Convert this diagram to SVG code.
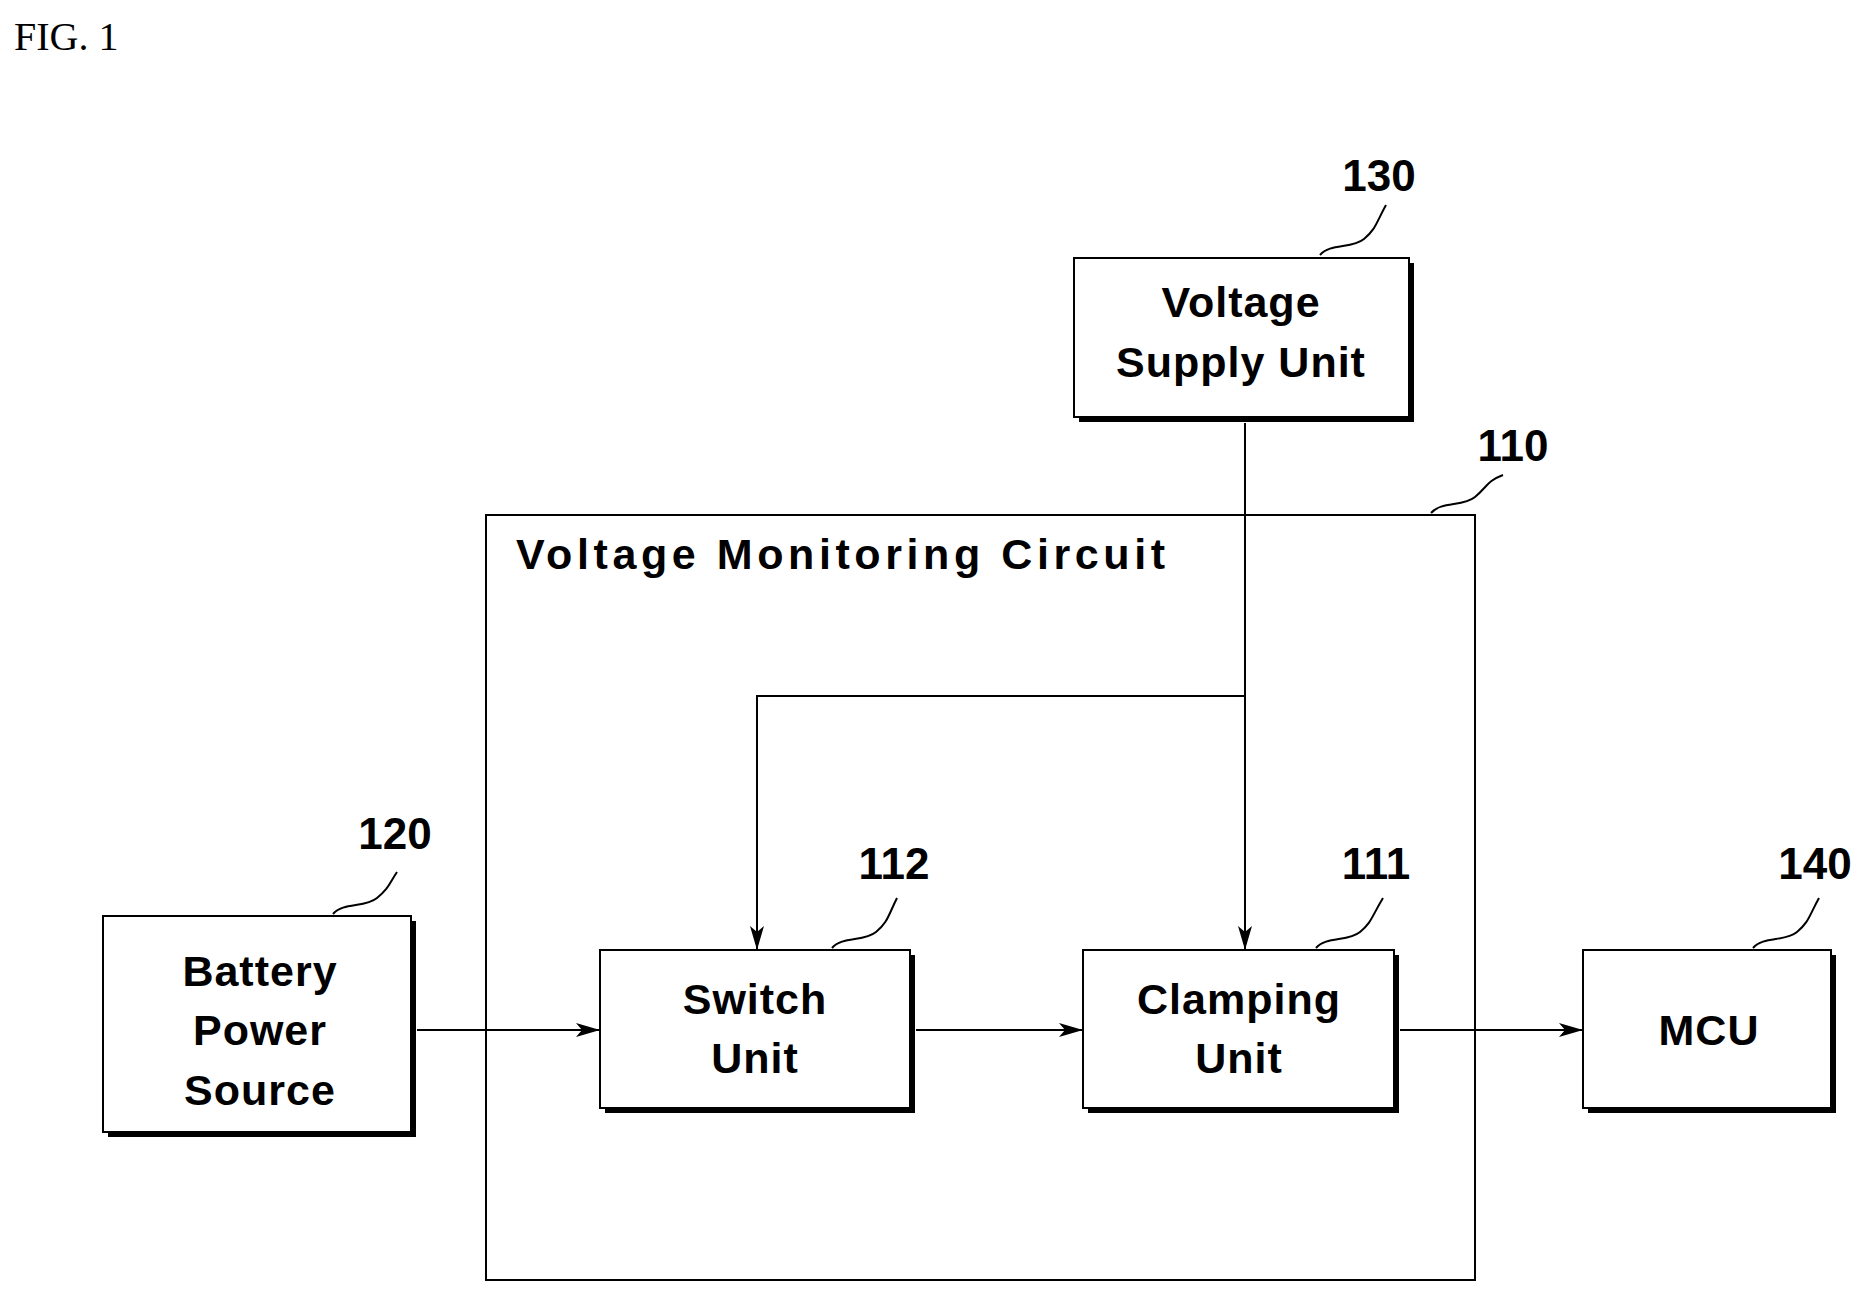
<svg xmlns="http://www.w3.org/2000/svg" width="1870" height="1299" viewBox="0 0 1870 1299">
<defs>
<marker id="ah" markerWidth="24" markerHeight="14" refX="24" refY="7" orient="auto" markerUnits="userSpaceOnUse"><path d="M0,0 L24,7 L0,14 L6,7 Z" fill="#000"/></marker>
</defs>
<style>
.box{fill:#fff;stroke:#000;stroke-width:2}
.sh{fill:#000}
.t{font-family:"Liberation Sans",Arial,sans-serif;font-weight:bold;font-size:43px;text-anchor:middle;letter-spacing:1px}
.n{font-family:"Liberation Sans",Arial,sans-serif;font-weight:bold;font-size:44px;text-anchor:middle}
.ld{fill:none;stroke:#000;stroke-width:2}
.ln{fill:none;stroke:#000;stroke-width:2}
</style>
<rect width="1870" height="1299" fill="#fff"/>
<text x="14" y="50" font-family="Liberation Serif,serif" font-size="40">FIG. 1</text>
<g transform="translate(-5,-3)">
<g id="n110">
<rect x="491" y="518" width="989" height="765" class="box"/>
<text x="521" y="572" class="t" style="text-anchor:start" textLength="650">Voltage Monitoring Circuit</text>
<path class="ld" d="M1436,516 c10,-12 32,-6 44,-16 s12,-16 28,-22"/>
<text x="1518" y="464" class="n">110</text>
</g>
<g id="n130">
<rect x="1084" y="266" width="335" height="159" class="sh"/>
<rect x="1079" y="261" width="335" height="159" class="box"/>
<text x="1246" y="320" class="t">Voltage</text>
<text x="1246" y="380" class="t">Supply Unit</text>
<path class="ld" d="M1325,258 c10,-12 32,-6 44,-16 s12,-16 22,-34"/>
<text x="1384" y="194" class="n">130</text>
</g>
<g id="n120">
<rect x="113" y="924" width="308" height="216" class="sh"/>
<rect x="108" y="919" width="308" height="216" class="box"/>
<text x="265" y="989" class="t">Battery</text>
<text x="265" y="1048" class="t">Power</text>
<text x="265" y="1108" class="t">Source</text>
<path class="ld" d="M338,917 c10,-12 32,-6 44,-16 s12,-14 20,-26"/>
<text x="400" y="852" class="n">120</text>
</g>
<g id="n112">
<rect x="610" y="958" width="310" height="158" class="sh"/>
<rect x="605" y="953" width="310" height="158" class="box"/>
<text x="760" y="1017" class="t">Switch</text>
<text x="760" y="1076" class="t">Unit</text>
<path class="ld" d="M837,951 c10,-12 32,-6 44,-16 s12,-16 21,-34"/>
<text x="899" y="882" class="n">112</text>
</g>
<g id="n111">
<rect x="1093" y="958" width="311" height="158" class="sh"/>
<rect x="1088" y="953" width="311" height="158" class="box"/>
<text x="1244" y="1017" class="t">Clamping</text>
<text x="1244" y="1076" class="t">Unit</text>
<path class="ld" d="M1321,951 c10,-12 32,-6 44,-16 s12,-16 23,-34"/>
<text x="1381" y="882" class="n">111</text>
</g>
<g id="n140">
<rect x="1593" y="958" width="248" height="158" class="sh"/>
<rect x="1588" y="953" width="248" height="158" class="box"/>
<text x="1714" y="1048" class="t">MCU</text>
<path class="ld" d="M1758,951 c10,-12 32,-6 44,-16 s12,-16 22,-34"/>
<text x="1820" y="882" class="n">140</text>
</g>
<g id="connectors">
<path class="ln" d="M1250,426 V953" marker-end="url(#ah)"/>
<path class="ln" d="M1250,699 H762 V953" marker-end="url(#ah)"/>
<path class="ln" d="M422,1033 H605" marker-end="url(#ah)"/>
<path class="ln" d="M921,1033 H1088" marker-end="url(#ah)"/>
<path class="ln" d="M1405,1033 H1588" marker-end="url(#ah)"/>
</g>
</g>
</svg>
